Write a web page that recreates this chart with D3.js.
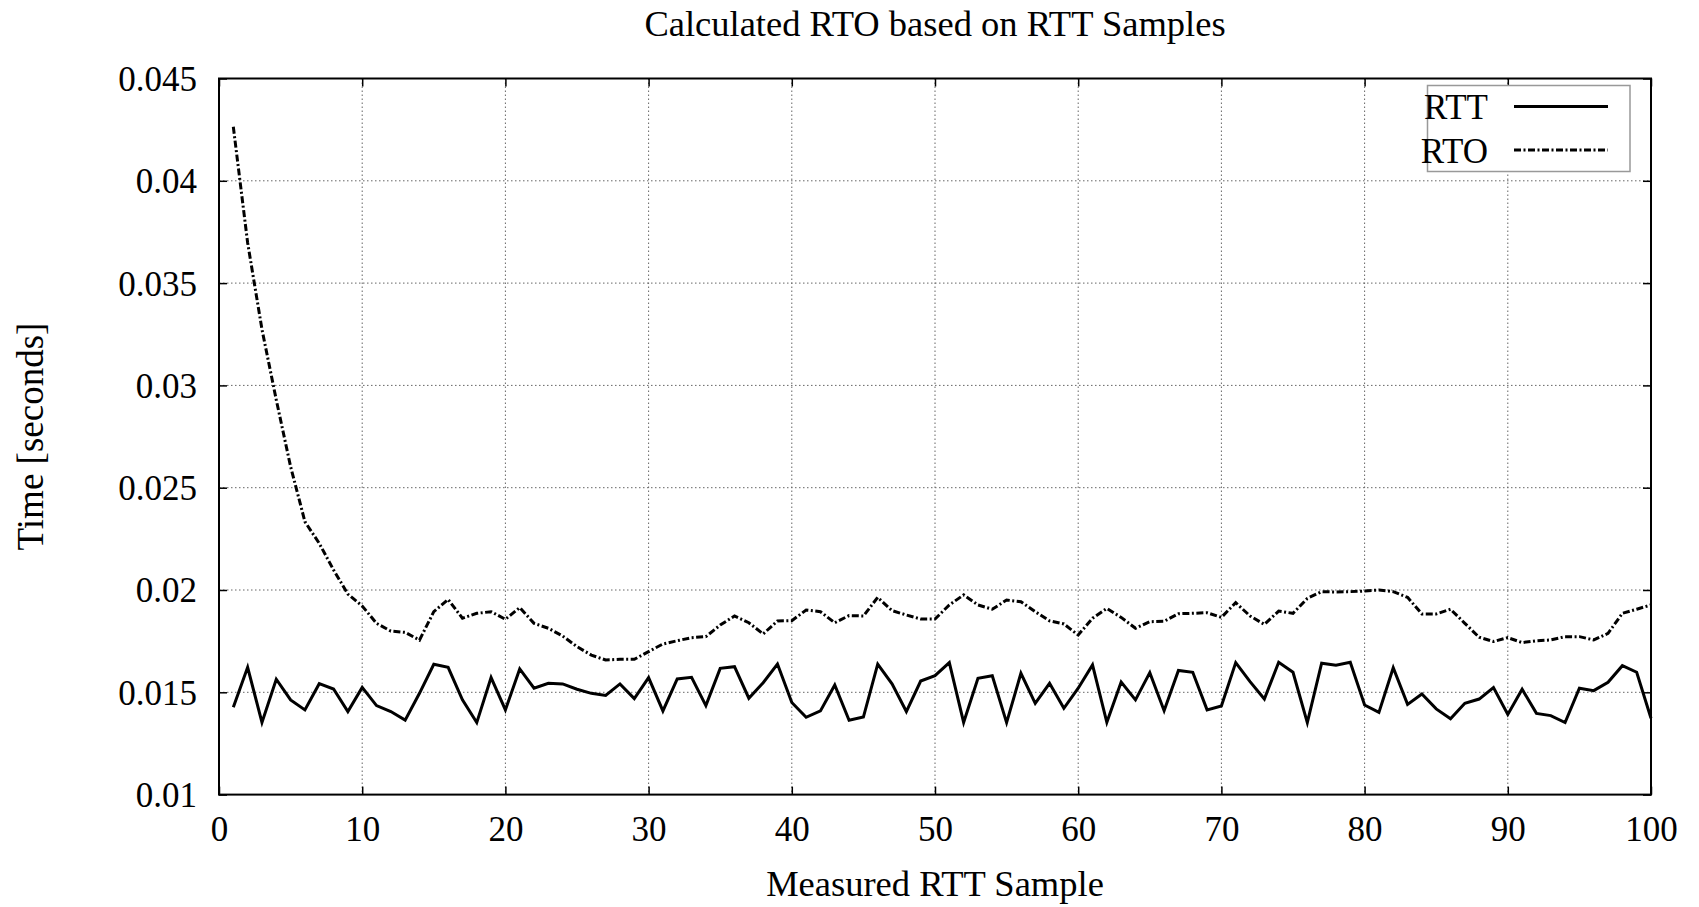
<!DOCTYPE html>
<html>
<head>
<meta charset="utf-8">
<script src="https://cdn.jsdelivr.net/npm/d3@7"></script>
<style>
  body { margin: 0; background: #fff; }
  svg text { font-family: "Liberation Serif", "DejaVu Serif", serif; fill: #000; }
  .grid line { stroke: #666; stroke-width: 1; stroke-dasharray: 1.5,2.5; }
</style>
</head>
<body>
<div id="chart"></div>
<script>
// measured sample numbers
var samples = [
  1,2,3,4,5,6,7,8,9,10,11,12,13,14,15,16,17,18,19,20,
  21,22,23,24,25,26,27,28,29,30,31,32,33,34,35,36,37,38,39,40,
  41,42,43,44,45,46,47,48,49,50,51,52,53,54,55,56,57,58,59,60,
  61,62,63,64,65,66,67,68,69,70,71,72,73,74,75,76,77,78,79,80,
  81,82,83,84,85,86,87,88,89,90,91,92,93,94,95,96,97,98,99,100
];

// seconds
var rttValues = [
  0.01427,0.01622,0.01353,0.01564,0.01463,0.01414,0.01542,0.01516,0.01406,0.01524,
  0.01435,0.01406,0.01364,0.01495,0.01637,0.01622,0.01463,0.01352,0.01572,0.01414,
  0.01614,0.01520,0.01544,0.01541,0.01515,0.01495,0.01485,0.01541,0.01469,0.01572,
  0.01409,0.01565,0.01573,0.01435,0.01617,0.01625,0.01471,0.01547,0.01638,0.01450,
  0.01378,0.01409,0.01536,0.01363,0.01379,0.01638,0.01541,0.01406,0.01555,0.01581,
  0.01645,0.01353,0.01568,0.01581,0.01352,0.01593,0.01446,0.01544,0.01422,0.01520,
  0.01634,0.01353,0.01550,0.01463,0.01596,0.01410,0.01607,0.01598,0.01414,0.01433,
  0.01645,0.01552,0.01467,0.01647,0.01598,0.01352,0.01642,0.01632,0.01647,0.01438,
  0.01402,0.01620,0.01441,0.01492,0.01419,0.01371,0.01446,0.01467,0.01523,0.01392,
  0.01515,0.01397,0.01386,0.01352,0.01520,0.01508,0.01549,0.01630,0.01598,0.01373
];

var rtoValues = [
  0.04264,0.03697,0.03274,0.02929,0.02603,0.02334,0.02228,0.02098,0.01980,0.01922,
  0.01837,0.01799,0.01793,0.01755,0.01894,0.01954,0.01862,0.01886,0.01894,0.01857,
  0.01914,0.01837,0.01813,0.01775,0.01723,0.01682,0.01658,0.01661,0.01661,0.01699,
  0.01736,0.01752,0.01767,0.01772,0.01829,0.01873,0.01840,0.01785,0.01849,0.01850,
  0.01902,0.01894,0.01840,0.01875,0.01873,0.01964,0.01899,0.01878,0.01858,0.01858,
  0.01927,0.01976,0.01927,0.01906,0.01951,0.01943,0.01894,0.01849,0.01834,0.01780,
  0.01862,0.01910,0.01866,0.01813,0.01845,0.01847,0.01884,0.01886,0.01889,0.01866,
  0.01938,0.01873,0.01832,0.01897,0.01886,0.01959,0.01992,0.01990,0.01992,0.01995,
  0.02000,0.01992,0.01964,0.01883,0.01883,0.01906,0.01837,0.01769,0.01748,0.01767,
  0.01743,0.01752,0.01756,0.01772,0.01772,0.01756,0.01788,0.01886,0.01906,0.01927
];

var xTicks = [0,10,20,30,40,50,60,70,80,90,100];
var yTicks = [0.01,0.015,0.02,0.025,0.03,0.035,0.04,0.045];
var yTickLabels = ["0.01","0.015","0.02","0.025","0.03","0.035","0.04","0.045"];

var seriesNames = ["RTT", "RTO"];

var W = 1699, H = 907;
var margin = {top: 78.5, right: 48, bottom: 112.4, left: 219},
    width = W - margin.left - margin.right,
    height = H - margin.top - margin.bottom;

var svg = d3.select("#chart").append("svg")
    .attr("width", W)
    .attr("height", H);

var g = svg.append("g")
    .attr("transform", "translate(" + margin.left + "," + margin.top + ")");

var x = d3.scaleLinear().domain([0, 100]).range([0, width]);
var y = d3.scaleLinear().domain([0.01, 0.045]).range([height, 0]);

// grid
var grid = g.append("g").attr("class", "grid");
grid.selectAll("line.vx")
    .data(xTicks.slice(1, -1))
    .enter().append("line")
    .attr("x1", function(d) { return x(d); })
    .attr("x2", function(d) { return x(d); })
    .attr("y1", 0).attr("y2", height);
grid.selectAll("line.hy")
    .data(yTicks.slice(1, -1))
    .enter().append("line")
    .attr("y1", function(d) { return y(d); })
    .attr("y2", function(d) { return y(d); })
    .attr("x1", 0).attr("x2", width);

// axes (gnuplot style: inward ticks mirrored on all sides)
var tickLen = 8;
function styleAxis(sel) {
  sel.select(".domain").remove();
  sel.selectAll(".tick line").attr("stroke", "#000").attr("stroke-width", 1.5);
  sel.selectAll(".tick text").style("font-size", "35px");
}

g.append("g")
    .attr("transform", "translate(0," + height + ")")
    .call(d3.axisBottom(x).tickValues(xTicks).tickFormat(d3.format("d")).tickSize(-tickLen).tickPadding(22))
    .call(styleAxis)
    .call(function(s) { s.selectAll(".tick text").attr("dy", "0.71em"); });

g.append("g")
    .call(d3.axisTop(x).tickValues(xTicks).tickFormat("").tickSize(-tickLen))
    .call(styleAxis);

g.append("g")
    .call(d3.axisLeft(y).tickValues(yTicks)
      .tickFormat(function(d, i) { return yTickLabels[i]; })
      .tickSize(-tickLen).tickPadding(22))
    .call(styleAxis)
    .call(function(s) { s.selectAll(".tick text").attr("dy", "0.34em"); });

g.append("g")
    .attr("transform", "translate(" + width + ",0)")
    .call(d3.axisRight(y).tickValues(yTicks).tickFormat("").tickSize(-tickLen))
    .call(styleAxis);

// lines
var rttLine = d3.line()
    .x(function(d, i) { return x(samples[i]); })
    .y(function(d) { return y(d); });

g.append("path")
    .datum(rttValues)
    .attr("fill", "none")
    .attr("stroke", "#000")
    .attr("stroke-width", 3)
    .attr("stroke-linejoin", "miter")
    .attr("d", rttLine);

g.append("path")
    .datum(rtoValues)
    .attr("fill", "none")
    .attr("stroke", "#000")
    .attr("stroke-width", 3)
    .attr("stroke-dasharray", "7,2.5,2,2.5")
    .attr("d", rttLine);

// border
g.append("rect")
    .attr("width", width)
    .attr("height", height)
    .attr("fill", "none")
    .attr("stroke", "#000")
    .attr("stroke-width", 2);

// legend
var legend = svg.append("g");
legend.append("rect")
    .attr("x", 1427.5).attr("y", 85.5)
    .attr("width", 202.5).attr("height", 86)
    .attr("fill", "#fff")
    .attr("stroke", "#999")
    .attr("stroke-width", 1.5);

var legendRows = legend.selectAll("g.row")
    .data(seriesNames)
    .enter().append("g")
    .attr("transform", function(d, i) { return "translate(0," + (106.5 + i * 43.5) + ")"; });

legendRows.append("text")
    .attr("x", 1488)
    .attr("dy", "0.36em")
    .attr("text-anchor", "end")
    .style("font-size", "35px")
    .text(function(d) { return d; });

legendRows.append("line")
    .attr("x1", 1514).attr("x2", 1608)
    .attr("stroke", "#000")
    .attr("stroke-width", 3)
    .attr("stroke-dasharray", function(d, i) { return i === 0 ? null : "7,2.5,2,2.5"; });

// titles
svg.append("text")
    .attr("x", margin.left + width / 2)
    .attr("y", 36)
    .attr("text-anchor", "middle")
    .style("font-size", "36.5px")
    .text("Calculated RTO based on RTT Samples");

svg.append("text")
    .attr("x", margin.left + width / 2)
    .attr("y", 896)
    .attr("text-anchor", "middle")
    .style("font-size", "36.5px")
    .text("Measured RTT Sample");

svg.append("text")
    .attr("transform", "translate(43," + (margin.top + height / 2) + ") rotate(-90)")
    .attr("text-anchor", "middle")
    .style("font-size", "37px")
    .text("Time [seconds]");
</script>
</body>
</html>
